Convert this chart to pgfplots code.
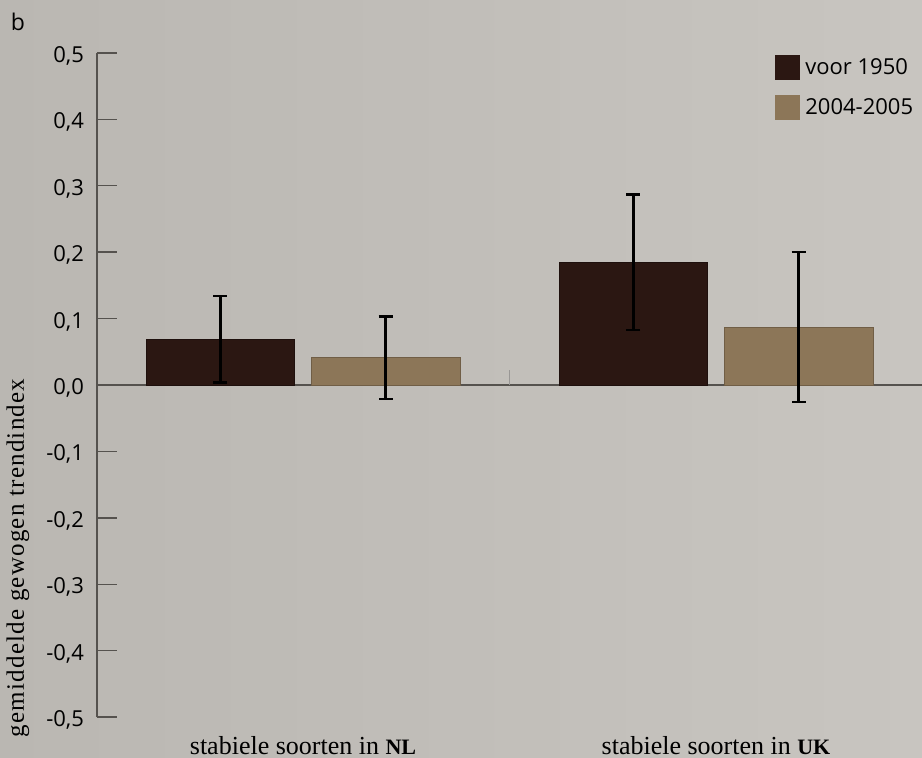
\documentclass[border=0pt]{standalone}
\usepackage{fontspec}
\setmainfont{Open Sans}
\newfontfamily\serif{Liberation Serif}
\newfontfamily\serifwide[LetterSpace=5]{Liberation Serif}
\usepackage{pgfplots}
\pgfplotsset{compat=1.18}
\usepackage{pgfplotstable}

\definecolor{bgL}{HTML}{BAB7B2}
\definecolor{bgR}{HTML}{C8C5C0}
\definecolor{voor}{HTML}{2B1712}
\definecolor{recent}{HTML}{8C7658}
\definecolor{axisgray}{HTML}{55524E}

% mean weighted trend index with its error per group (0 = NL, 1 = UK)
\pgfplotstableread{
grp val err
0 0.069 0.065
1 0.185 0.102
}\voortable
\pgfplotstableread{
grp val err
0 0.041 0.062
1 0.087 0.113
}\recenttable

\begin{document}
\begin{tikzpicture}
\shade[left color=bgL, right color=bgR] (0,0) rectangle (461pt,378.5pt);
\begin{axis}[
  at={(48.5pt,20pt)}, anchor=south west,
  scale only axis, width=412.5pt, height=332pt,
  xmin=-0.4988, xmax=1.4988, ymin=-0.5, ymax=0.5,
  axis y line*=left, axis x line*=bottom,
  x axis line style={draw=none},
  y axis line style={axisgray, line width=0.7pt},
  ytick distance=0.1,
  tick align=inside,
  major tick length=10pt,
  major y tick style={axisgray, line width=0.7pt},
  major x tick style={draw=none},
  xtick={0,1},
  xticklabels={{stabiele soorten in {\fontsize{11}{12}\selectfont\bfseries NL}},
               {stabiele soorten in {\fontsize{11}{12}\selectfont\bfseries UK}}},
  xticklabel style={font=\serif\fontsize{13}{15}\selectfont, yshift=4pt},
  extra y ticks={0},
  extra y tick labels={},
  extra y tick style={grid=major, major grid style={axisgray, line width=0.7pt}, major tick length=0pt},
  yticklabel style={font=\fontsize{11}{12}\selectfont, xshift=-3pt, yshift=-1.5pt},
  /pgf/number format/.cd, use comma, fixed, fixed zerofill, precision=1, assume math mode=true,
  /pgfplots/.cd,
  ybar, bar width=0.36,
  error bars/y dir=both, error bars/y explicit,
  error bars/error bar style={black, line width=1.2pt},
  error bars/error mark options={black, line width=1.2pt, mark size=3.5pt, rotate=90},
  legend image code/.code={\fill[#1,draw=none] (0pt,-6.25pt) rectangle (12.5pt,6.25pt);},
  legend style={at={(0.8218,1.0)}, anchor=north west, draw=none, fill=none,
    font=\fontsize{11}{12}\selectfont, row sep=5.5pt, inner sep=0pt,
    nodes={inner sep=2.5pt, xshift=1.5pt}},
  legend cell align=left,
  clip=false,
]
\addplot[fill=voor, draw=voor!70!black, line width=0.4pt, bar shift=-0.2]
  table[x=grp, y=val, y error=err] {\voortable};
\addplot[fill=recent, draw=recent!80!black, line width=0.4pt, bar shift=0.2]
  table[x=grp, y=val, y error=err] {\recenttable};
\legend{voor 1950, 2004-2005}
\draw[axisgray!60, line width=0.6pt] (axis cs:0.5,0) -- (axis cs:0.5,0.022);
\end{axis}
\node[font=\fontsize{11.5}{13}\selectfont] at (9pt,367.5pt) {b};
\node[rotate=90, font=\serifwide\fontsize{12.5}{14}\selectfont] at (9pt,99.5pt) {gemiddelde gewogen trendindex};
\pgfresetboundingbox
\path (0,0) rectangle (461pt,378.5pt);
\end{tikzpicture}
\end{document}
